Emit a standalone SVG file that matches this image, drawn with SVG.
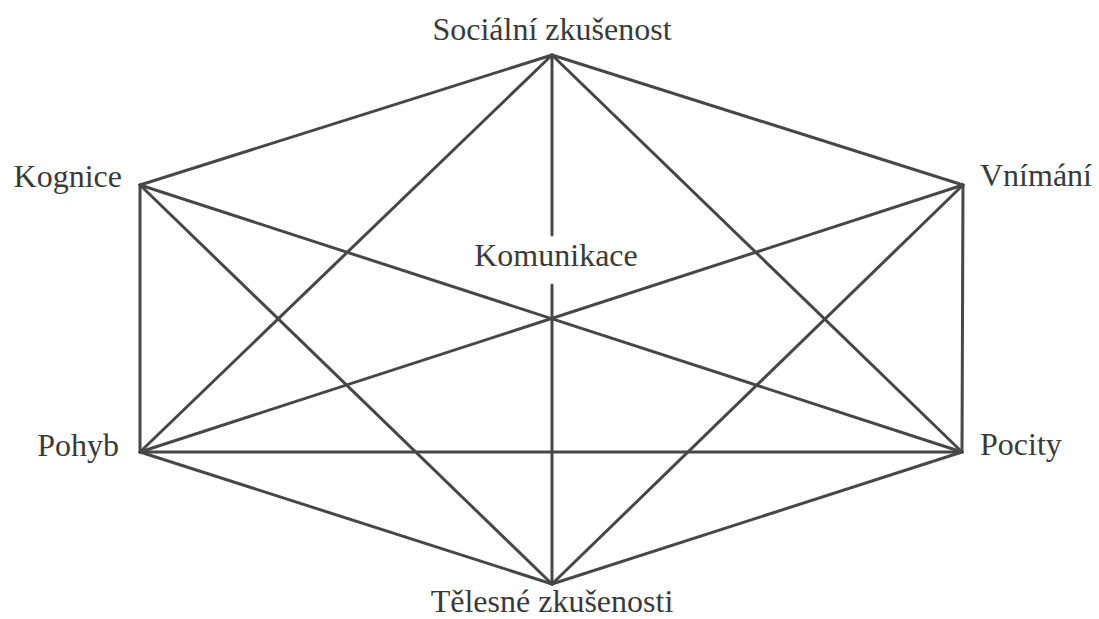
<svg xmlns="http://www.w3.org/2000/svg" width="1099" height="619" viewBox="0 0 1099 619">
<style>
.e{stroke:#474747;stroke-width:3;stroke-linecap:round;fill:none}
.t{font-family:"Liberation Serif","Times New Roman",serif;font-size:32px;fill:#3a3a3a}
</style>
<rect width="1099" height="619" fill="#ffffff"/>
<g id="connectors">
<line class="e" x1="552" y1="55" x2="140" y2="185"/>
<line class="e" x1="552" y1="55" x2="963" y2="185"/>
<line class="e" x1="140" y1="185" x2="140" y2="452"/>
<line class="e" x1="963" y1="185" x2="962" y2="452"/>
<line class="e" x1="140" y1="452" x2="552" y2="584"/>
<line class="e" x1="962" y1="452" x2="552" y2="584"/>
<line class="e" x1="140" y1="452" x2="962" y2="452"/>
<line class="e" x1="552" y1="55" x2="140" y2="452"/>
<line class="e" x1="552" y1="55" x2="962" y2="452"/>
<line class="e" x1="552" y1="584" x2="140" y2="185"/>
<line class="e" x1="552" y1="584" x2="963" y2="185"/>
<line class="e" x1="140" y1="185" x2="962" y2="452"/>
<line class="e" x1="963" y1="185" x2="140" y2="452"/>
<line class="e" x1="552" y1="55" x2="552" y2="235"/>
<line class="e" x1="552" y1="285" x2="552" y2="584"/>
</g>
<g id="socialni"><text class="t" x="552" y="40" text-anchor="middle">Sociální zkušenost</text></g>
<g id="kognice"><text class="t" x="122" y="187" text-anchor="end">Kognice</text></g>
<g id="vnimani"><text class="t" x="980" y="186">Vnímání</text></g>
<g id="komunikace"><text class="t" x="556" y="266" text-anchor="middle">Komunikace</text></g>
<g id="pohyb"><text class="t" x="119" y="456" text-anchor="end">Pohyb</text></g>
<g id="pocity"><text class="t" x="980" y="455">Pocity</text></g>
<g id="telesne"><text class="t" x="552" y="612" text-anchor="middle">Tělesné zkušenosti</text></g>
</svg>
